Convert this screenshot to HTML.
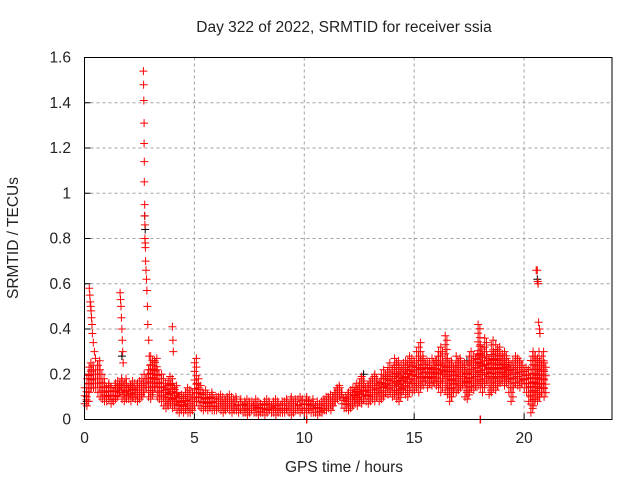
<!DOCTYPE html>
<html><head><meta charset="utf-8"><style>
body{margin:0;background:#fff;}
svg text{font-family:"Liberation Sans",sans-serif;font-size:15.5px;fill:#222;}
</style></head><body>
<svg id="chart" width="640" height="480">
<rect width="640" height="480" fill="#fff"/>
<g id="grid"></g>
<g id="axes"></g>
<g id="series"></g>
<rect x="84.5" y="57.5" width="527.5" height="362" fill="none" stroke="#000" stroke-width="1"/>
<text x="344" y="32" text-anchor="middle">Day 322 of 2022, SRMTID for receiver ssia</text>
<text x="344" y="472" text-anchor="middle">GPS time / hours</text>
<text transform="translate(18,238) rotate(-90)" text-anchor="middle">SRMTID / TECUs</text>
</svg>
<script>
const xTicks=[0,5,10,15,20];
const yTicks=[0,0.2,0.4,0.6,0.8,1,1.2,1.4,1.6];
const yTickLabels=["0","0.2","0.4","0.6","0.8","1","1.2","1.4","1.6"];
const slotStep=0.1;
const redLow=[
.07,.06,.12,.14,.14,.14,.12,.10,.09,.08,
.08,.09,.07,.08,.09,.10,.12,.09,.08,.09,
.09,.08,.10,.09,.08,.09,.10,.12,.14,.10,
.09,.12,.14,.10,.09,.08,.06,.05,.06,.07,
.05,.06,.04,.03,.04,.03,.04,.03,.03,.04,
.06,.08,.06,.05,.04,.05,.04,.05,.04,.04,
.04,.05,.04,.03,.04,.05,.04,.03,.04,.04,
.03,.04,.03,.03,.02,.03,.04,.03,.03,.02,
.03,.03,.02,.03,.04,.03,.03,.02,.03,.03,
.03,.03,.04,.03,.02,.03,.04,.04,.03,.04,
.03,.03,.04,.03,.03,.03,.02,.03,.03,.04,
.04,.05,.04,.06,.08,.09,.10,.07,.05,.05,
.04,.05,.06,.07,.06,.08,.07,.09,.08,.07,
.08,.09,.08,.10,.08,.09,.10,.12,.11,.12,
.10,.11,.09,.08,.12,.13,.11,.10,.14,.12,
.13,.14,.12,.15,.15,.17,.14,.16,.15,.16,
.15,.14,.12,.18,.13,.11,.08,.10,.14,.12,
.13,.14,.15,.10,.09,.12,.14,.13,.15,.15,
.14,.12,.16,.17,.11,.12,.14,.13,.15,.16,
.17,.15,.16,.12,.08,.14,.16,.15,.14,.16,
.14,.12,.08,.03,.06,.09,.08,.10,.12,.10];
const redHigh=[
.14,.20,.25,.24,.22,.24,.26,.22,.18,.16,
.15,.16,.14,.15,.16,.17,.18,.17,.18,.16,
.15,.17,.16,.15,.16,.17,.18,.20,.20,.24,
.28,.26,.27,.22,.18,.20,.16,.15,.19,.18,
.16,.15,.12,.10,.11,.12,.14,.13,.11,.12,
.27,.18,.15,.12,.11,.13,.10,.12,.11,.10,
.10,.11,.10,.09,.10,.11,.10,.09,.10,.09,
.08,.09,.08,.09,.08,.07,.08,.09,.08,.07,
.07,.08,.09,.08,.07,.08,.09,.08,.07,.08,
.08,.09,.08,.09,.10,.09,.08,.09,.10,.09,
.09,.10,.08,.09,.07,.08,.07,.08,.09,.10,
.10,.11,.10,.12,.14,.15,.14,.12,.10,.11,
.12,.13,.14,.16,.15,.18,.19,.16,.15,.17,
.18,.19,.20,.17,.18,.20,.22,.21,.25,.22,
.24,.27,.26,.23,.24,.25,.26,.28,.27,.26,
.25,.30,.34,.28,.27,.26,.25,.24,.27,.26,
.28,.30,.32,.25,.37,.27,.26,.25,.24,.28,
.27,.26,.25,.22,.26,.30,.28,.27,.29,.42,
.33,.30,.36,.28,.27,.35,.30,.33,.32,.28,
.29,.30,.27,.24,.26,.25,.28,.27,.26,.24,
.23,.22,.20,.28,.30,.28,.27,.26,.30,.25];
const spikeT=[2.68,2.69,2.70,2.71,2.71,2.72,2.72,2.74,2.74,2.75,2.75,2.76,2.77,2.78,2.80,2.82,2.84,2.86,2.88,2.92,2.95,10.1,10.12,18.0,18.02,
0.22,0.24,0.26,0.28,0.30,0.32,0.34,0.36,0.40,0.45,0.50,
1.62,1.64,1.66,1.68,1.70,1.72,1.74,1.76,
4.0,4.02,4.04,
20.55,20.6,20.62,20.64,20.66,20.68,20.7,20.72];
const spikeV=[1.54,1.48,1.41,1.31,1.22,1.14,1.05,0.95,0.90,0.86,0.80,0.78,0.76,0.70,0.66,0.62,0.57,0.50,0.42,0.35,0.28,0,0,0,0,
0.58,0.55,0.52,0.50,0.48,0.45,0.42,0.38,0.34,0.30,0.27,
0.56,0.53,0.50,0.45,0.40,0.35,0.30,0.25,
0.41,0.35,0.30,
0.66,0.66,0.61,0.60,0.43,0.30,0.40,0.38];
const blackT=[0.1,1.7,2.74,2.76,3.0,12.7,15.2,17.4,18.6,19.5,20.6];
const blackV=[0.08,0.28,0.90,0.84,0.22,0.20,0.22,0.26,0.28,0.22,0.62];

const X0=84.5,X1=612,Y0=419.5,Y1=57.5;
const xs=v=>X0+v/24*(X1-X0);
const ys=v=>Y0-v/1.6*(Y0-Y1);
const NS="http://www.w3.org/2000/svg";
function mk(tag,attrs,parent){const e=document.createElementNS(NS,tag);for(const k in attrs)e.setAttribute(k,attrs[k]);parent.appendChild(e);return e;}
const grid=document.getElementById('grid'),axes=document.getElementById('axes'),series=document.getElementById('series');
xTicks.forEach(t=>{
  const x=xs(t);
  if(t>0){const g=mk('line',{x1:x,x2:x,y1:Y1,y2:Y0,stroke:'#a0a0a0','stroke-dasharray':'3,3'},grid);
  
  }
  const tk=mk('line',{x1:x,x2:x,y1:Y0,y2:Y0-6,stroke:'#000'},axes);
  
  
  const tx=mk('text',{x:x,y:443,'text-anchor':'middle'},axes);tx.textContent=String(t);
  
  
});
yTicks.forEach((t,i)=>{
  const y=ys(t);
  if(t>0&&t<1.6){const g=mk('line',{x1:X0,x2:X1,y1:y,y2:y,stroke:'#a0a0a0','stroke-dasharray':'3,3'},grid);
  
  }
  const tk=mk('line',{x1:X0,x2:X0+6,y1:y,y2:y,stroke:'#000'},axes);
  
  
  const tx=mk('text',{x:71,y:y+5,'text-anchor':'end'},axes);tx.textContent=yTickLabels[i];
  
  
});
function plus(x,y){return `M${(x-4).toFixed(1)} ${y.toFixed(1)}h8M${x.toFixed(1)} ${(y-4).toFixed(1)}v8`;}
let dB='';
blackT.forEach((t,i)=>{dB+=plus(xs(t),ys(blackV[i]));});
const pb=mk('path',{d:dB,stroke:'#000','stroke-width':1,fill:'none'},series);


let dR='';
redLow.forEach((lo,i)=>{
  const hi=redHigh[i];const t=i*slotStep+0.05;
  const n=Math.max(1,Math.round((hi-lo)/0.02));
  for(let k=0;k<=n;k++){const v=lo+(hi-lo)*k/n;dR+=plus(xs(t+((k%2)?0.04:-0.04)),ys(v));}
});
spikeT.forEach((t,i)=>{dR+=plus(xs(t),ys(spikeV[i]));});
const pr=mk('path',{d:dR,stroke:'#ff0000','stroke-width':1,fill:'none'},series);


</script>
</body></html>
